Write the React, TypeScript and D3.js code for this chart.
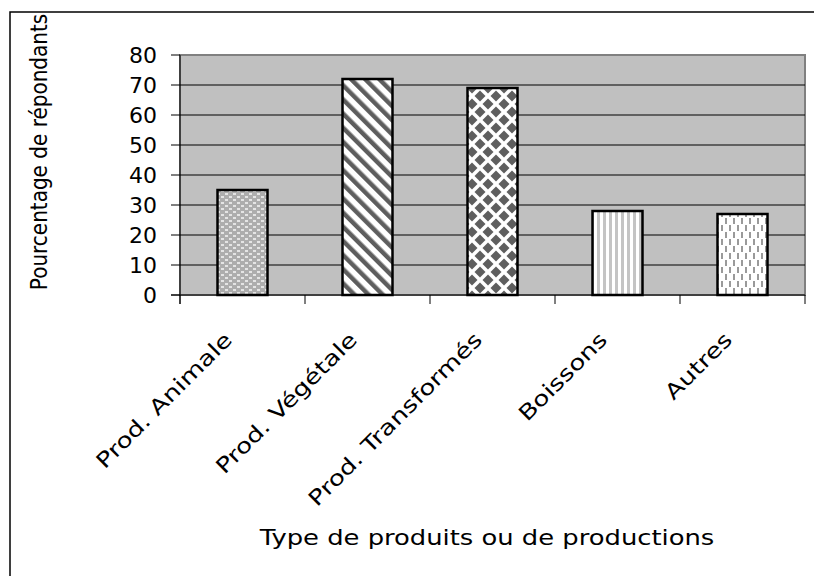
import React from "react"
import * as d3 from "d3"

// Share of respondents by type of product (bar chart, pattern fills)
const categories = ["Prod. Animale", "Prod. Végétale", "Prod. Transformés", "Boissons", "Autres"]
const values = [35, 72, 69, 28, 27]
const yTicks = [0, 10, 20, 30, 40, 50, 60, 70, 80]
const patternIds = ["pDots", "pDiag", "pDiamond", "pVert", "pDash"]

const FONT = "'DejaVu Sans', sans-serif"
// the original font is a wide geometric face, so the x-side texts are stretched a bit
const WIDE = 1.25

export default function App() {
  const left = 180
  const right = 805
  const top = 55
  const bottom = 295

  const x = d3.scaleBand<string>().domain(categories).range([left, right]).paddingInner(0.6).paddingOuter(0.3)
  const band = d3.scaleBand<string>().domain(categories).range([left, right])
  const y = d3.scaleLinear().domain([0, 80]).range([bottom, top])

  return (
    <svg width={814} height={576} style={{ position: "absolute", left: 0, top: 0, background: "#fff" }}>
      <defs>
        <pattern id="pDots" width={8} height={6} patternUnits="userSpaceOnUse">
          <rect width={8} height={6} fill="#adadad" />
          <rect x={1} y={1} width={3} height={2} fill="#e4e4e4" />
          <rect x={5} y={4} width={3} height={2} fill="#e4e4e4" />
        </pattern>
        <pattern id="pDiag" width={10} height={10} patternUnits="userSpaceOnUse" patternTransform="rotate(-45)">
          <rect width={10} height={10} fill="#fff" />
          <rect width={4.5} height={10} fill="#5e5e5e" />
        </pattern>
        <pattern id="pDiamond" width={16} height={16} patternUnits="userSpaceOnUse">
          <rect width={16} height={16} fill="#fff" />
          {[[0, 0], [16, 0], [0, 16], [16, 16], [8, 8]].map(([cx, cy], i) => (
            <path key={i} d={`M${cx},${cy - 5.5}L${cx + 5.5},${cy}L${cx},${cy + 5.5}L${cx - 5.5},${cy}Z`} fill="#5e5e5e" />
          ))}
        </pattern>
        <pattern id="pVert" width={6} height={6} patternUnits="userSpaceOnUse">
          <rect width={6} height={6} fill="#fff" />
          <rect x={3} width={3} height={6} fill="#c4c4c4" />
        </pattern>
        <pattern id="pDash" width={8} height={14} patternUnits="userSpaceOnUse">
          <rect width={8} height={14} fill="#fff" />
          <rect x={1} y={1} width={2} height={6} fill="#9a9a9a" />
          <rect x={5} y={8} width={2} height={6} fill="#9a9a9a" />
        </pattern>
      </defs>

      {/* outer frame, only the top and left edges are inside the picture */}
      <rect x={10} y={12} width={900} height={700} fill="none" stroke="#000" strokeWidth={1.5} />

      {/* plot area */}
      <rect x={left} y={top} width={right - left} height={bottom - top} fill="#c0c0c0" stroke="#808080" strokeWidth={2} />
      {yTicks.filter(t => t > 0 && t < 80).map(t => (
        <line key={t} x1={left} x2={right} y1={y(t)} y2={y(t)} stroke="#000" strokeWidth={1} />
      ))}

      {/* bars */}
      {categories.map((c, i) => (
        <rect key={c} x={x(c)} y={y(values[i])} width={x.bandwidth()} height={bottom - y(values[i])}
          fill={`url(#${patternIds[i]})`} stroke="#000" strokeWidth={2.5} />
      ))}

      {/* y axis */}
      <line x1={left} x2={left} y1={top} y2={bottom + 9} stroke="#000" strokeWidth={1} />
      {yTicks.map(t => (
        <g key={t}>
          <line x1={left - 9} x2={left} y1={y(t)} y2={y(t)} stroke="#000" strokeWidth={1} />
          <text x={left - 23} y={y(t)} dy="0.36em" textAnchor="end" fontFamily={FONT} fontSize={22}>{t}</text>
        </g>
      ))}

      {/* x axis */}
      <line x1={left - 9} x2={right} y1={bottom} y2={bottom} stroke="#000" strokeWidth={1} />
      {[...categories.map(c => band(c) as number), right].map((v, i) => (
        <line key={i} x1={v} x2={v} y1={bottom} y2={bottom + 9} stroke="#000" strokeWidth={1} />
      ))}
      {categories.map(c => {
        const cx = (band(c) as number) + band.bandwidth() / 2 - 9
        return (
          <text key={c} transform={`translate(${cx},${bottom + 46}) rotate(-45) scale(${WIDE},1)`} textAnchor="end"
            fontFamily={FONT} fontSize={21}>{c}</text>
        )
      })}

      {/* axis titles */}
      <text transform={`translate(47,152) rotate(-90) scale(0.87,1)`} textAnchor="middle" fontFamily={FONT} fontSize={23}>
        Pourcentage de répondants
      </text>
      <text transform={`translate(487,545) scale(1.23,1)`} textAnchor="middle" fontFamily={FONT} fontSize={21}>
        Type de produits ou de productions
      </text>
    </svg>
  )
}
